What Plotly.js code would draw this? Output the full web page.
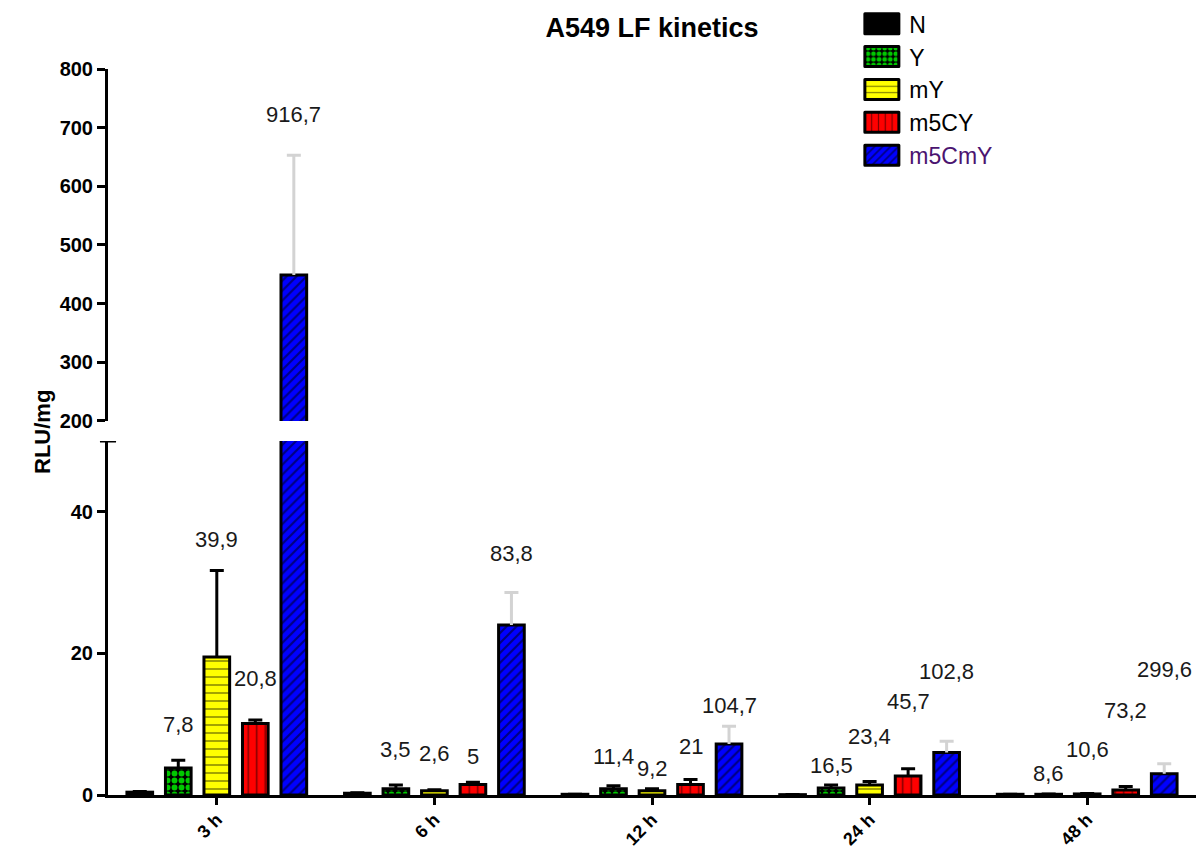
<!DOCTYPE html>
<html>
<head>
<meta charset="utf-8">
<script src="https://cdn.plot.ly/plotly-3.0.1.min.js"></script>
<style>html,body{margin:0;padding:0;background:#fff;}</style>
</head>
<body>
<div id="chart" style="width:1196px;height:850px;"></div>
<script>
// ---- data ----
const categories = ["3 h", "6 h", "12 h", "24 h", "48 h"];
const seriesNames = ["N", "Y", "mY", "m5CY", "m5CmY"];

const valN     = [0.4, 0.25, 0.1, 0.05, 0.1];
const errN     = [0.1, 0.05, 0.02, 0.02, 0.02];
const valY     = [3.8, 0.9, 0.9, 1.0, 0.1];
const errY     = [1.1, 0.5, 0.4, 0.4, 0.05];
const valMY    = [19.5, 0.6, 0.6, 1.4, 0.15];
const errMY    = [12.2, 0.15, 0.3, 0.5, 0.05];
const valM5CY  = [10.1, 1.5, 1.5, 2.7, 0.7];
const errM5CY  = [0.5, 0.3, 0.7, 1.0, 0.5];
const valM5CmY = [449, 24.0, 7.2, 6.0, 3.0];
const errM5CmY = [204, 4.6, 2.5, 1.6, 1.4];

// fold-change labels above bars
const foldY     = ["7,8", "3,5", "11,4", "16,5", "8,6"];
const foldMY    = ["39,9", "2,6", "9,2", "23,4", "10,6"];
const foldM5CY  = ["20,8", "5", "21", "45,7", "73,2"];
const foldM5CmY = ["916,7", "83,8", "104,7", "102,8", "299,6"];
// label heights (in RLU/mg axis units)
const foldYPos     = [9.9, 6.4, 5.4, 4.2, 3.1];
const foldMYPos    = [36.1, 5.9, 3.8, 8.3, 6.4];
const foldM5CYPos  = [16.4, 5.4, 6.9, 13.2, 12.0];
const foldM5CmYPos = [721.6, 34.1, 12.7, 17.4, 17.7];

const yTicksLow = [0, 20, 40];
const yTicksHigh = [200, 300, 400, 500, 600, 700, 800];
const breakLow = 50;   // top of lower segment
const breakHigh = 200; // bottom of upper segment

// ---- style ----
const FONT = "Liberation Sans, Arial, Helvetica, sans-serif";
const step = 0.177;
const barW = 0.118;
const seriesIdx = [-2, -1, 0, 1, 2];

const styles = [
  {color: "#000000", pattern: {shape: ""}, err: "#000000"},
  {color: "#000000", pattern: {shape: ".", fgcolor: "#00c800", bgcolor: "#000000", size: 7, solidity: 0.55, fillmode: "replace"}, err: "#000000"},
  {color: "#ffff00", pattern: {shape: "-", fgcolor: "#000000", size: 8, solidity: 0.18, fillmode: "overlay"}, err: "#000000"},
  {color: "#ff0000", pattern: {shape: "|", fgcolor: "#000000", size: 8.5, solidity: 0.18, fillmode: "overlay"}, err: "#000000"},
  {color: "#0000ff", pattern: {shape: "/", fgcolor: "#000000", size: 7, solidity: 0.3, fillmode: "overlay"}, err: "#d3d3d3"}
];

const values = [valN, valY, valMY, valM5CY, valM5CmY];
const errors = [errN, errY, errMY, errM5CY, errM5CmY];

function barTrace(i, yaxis, showlegend) {
  const st = styles[i];
  const name = seriesNames[i] === "m5CmY"
    ? '<span style="color:#4b1470">m5CmY</span>' : seriesNames[i];
  return {
    type: "bar",
    x: categories,
    y: values[i],
    name: name,
    legendgroup: seriesNames[i],
    showlegend: showlegend,
    xaxis: "x",
    yaxis: yaxis,
    width: barW,
    offset: seriesIdx[i] * step - barW / 2,
    marker: {color: st.color, pattern: st.pattern, line: {color: "#000000", width: 3}},
    error_y: {type: "data", symmetric: false, array: errors[i],
              arrayminus: values[i].map(() => 0),
              color: st.err, thickness: 3, width: 7},
    hoverinfo: "skip"
  };
}

const traces = [];
for (let i = 0; i < 5; i++) traces.push(barTrace(i, "y", true));
for (let i = 0; i < 5; i++) traces.push(barTrace(i, "y2", false));

// label annotations
const foldSets = [
  [1, foldY, foldYPos],
  [2, foldMY, foldMYPos],
  [3, foldM5CY, foldM5CYPos],
  [4, foldM5CmY, foldM5CmYPos]
];
const annotations = [];
foldSets.forEach(([si, labels, pos]) => {
  labels.forEach((t, k) => {
    const high = pos[k] > breakLow;
    annotations.push({
      x: k + seriesIdx[si] * step, xref: "x",
      y: pos[k], yref: high ? "y2" : "y",
      text: t, showarrow: false,
      font: {family: FONT, size: 22, color: "#1a1a1a"},
      xanchor: "center", yanchor: "middle"
    });
  });
});
annotations.push({
  x: -0.0607, xref: "paper", y: 0.5, yref: "paper",
  text: "RLU/mg", textangle: -90, showarrow: false,
  font: {family: FONT, size: 22, weight: "bold", color: "#000"},
  xanchor: "center", yanchor: "middle"
});

const axisCommon = {
  showline: true, linewidth: 3, linecolor: "#000",
  ticks: "outside", ticklen: 8, tickwidth: 3, tickcolor: "#000",
  showgrid: false, zeroline: false, fixedrange: true,
  tickfont: {family: FONT, size: 20, weight: "bold", color: "#000"}
};

const layout = {
  width: 1196, height: 850,
  margin: {l: 108, r: 0, t: 69, b: 55},
  paper_bgcolor: "#fff", plot_bgcolor: "#fff",
  barmode: "overlay",
  showlegend: true,
  title: {text: "A549 LF kinetics", font: {family: FONT, size: 27, weight: "bold", color: "#000"},
          x: 0.5, xref: "paper", xanchor: "center", y: 0.968, yref: "container", yanchor: "middle"},
  xaxis: Object.assign({}, axisCommon, {
    type: "category", categoryarray: categories, categoryorder: "array",
    range: [-0.5, 4.5], anchor: "y", tickangle: -45, ticklen: 7, ticklabelstandoff: -3,
    tickfont: {family: FONT, size: 18, weight: "bold", color: "#000"}
  }),
  yaxis: Object.assign({}, axisCommon, {
    domain: [0, 0.4876], range: [0, breakLow], tickmode: "array", tickvals: yTicksLow, anchor: "x"
  }),
  yaxis2: Object.assign({}, axisCommon, {
    domain: [0.5152, 1], range: [breakHigh, 800], tickmode: "array", tickvals: yTicksHigh, anchor: "x"
  }),
  legend: {
    x: 0.686, y: 1.092, xref: "paper", yref: "paper", xanchor: "left", yanchor: "top",
    font: {family: FONT, size: 23, color: "#000"},
    bgcolor: "rgba(0,0,0,0)", tracegroupgap: 11, traceorder: "normal", itemwidth: 45
  },
  shapes: [
    {type: "line", xref: "paper", yref: "y", x0: -0.0074, x1: 0.0074, y0: breakLow, y1: breakLow,
     line: {color: "#000", width: 3}}
  ],
  annotations: annotations
};

Plotly.newPlot("chart", traces, layout, {displayModeBar: false, staticPlot: true}).then(function (gd) {
  // larger, rounded legend swatches
  gd.querySelectorAll(".legend .legendpoints path").forEach(function (p) {
    p.setAttribute("d", "M17,10H-17V-10H17Z");
    p.style.strokeWidth = "3px";
    p.style.strokeLinejoin = "round";
  });
  // draw error bars only upward (drop the cap at the bar top)
  gd.querySelectorAll(".errorbar path.yerror").forEach(function (p) {
    const d = p.getAttribute("d") || "";
    p.setAttribute("d", d.replace(/m-?[\d.]+,0h[\d.]+$/, ""));
  });
});
</script>
</body>
</html>
